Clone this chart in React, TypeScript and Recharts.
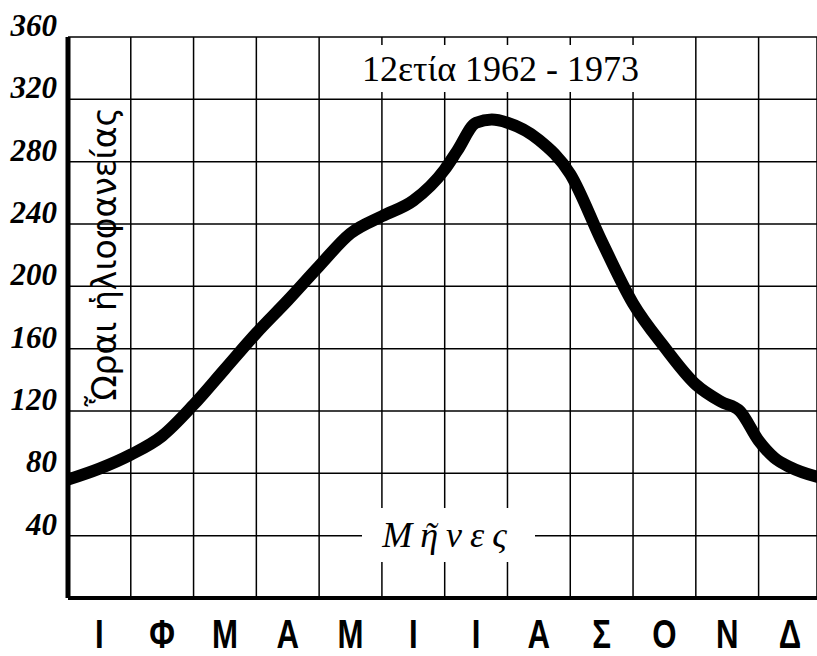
import React from 'react';
import { LineChart, Line, XAxis, YAxis, CartesianGrid } from 'recharts';

// months (Greek initials), placed at the middle of each column
const months = ['Ι', 'Φ', 'Μ', 'Α', 'Μ', 'Ι', 'Ι', 'Α', 'Σ', 'Ο', 'Ν', 'Δ'];
const monthTicks = [0.5, 1.5, 2.5, 3.5, 4.5, 5.5, 6.5, 7.5, 8.5, 9.5, 10.5, 11.5];
const gridTicks = [0, 1, 2, 3, 4, 5, 6, 7, 8, 9, 10, 11, 12];
const yTicks = [40, 80, 120, 160, 200, 240, 280, 320, 360];

// sunshine hours (x in month columns)
const xs = [0, 0.5, 1, 1.5, 2, 2.5, 3, 3.5, 4, 4.5, 5, 5.5, 6, 6.2, 6.5, 6.75, 7, 7.5, 8, 8.5, 9, 9.5, 10, 10.4, 10.7, 11, 11.25, 11.5, 12];
const hours = [76, 83, 92, 104, 124, 147, 170, 191, 213, 234, 245, 255, 275, 287, 305, 307, 305, 294, 272, 229, 189, 161, 137, 126, 120, 101, 90, 84, 77];

const data = xs.map((x, i) => ({ x, h: hours[i] }));

const YTick = (props: any) => {
    const { x, y, payload } = props;
    return (
        <text x={x - 3} y={y - 1} textAnchor="end" fontFamily="Liberation Serif" fontStyle="italic" fontWeight="bold" fontSize={31} fill="#000">
            {payload.value}
        </text>
    );
};

const MonthTick = (props: any) => {
    const { x, y, index } = props;
    return (
        <text transform={`translate(${x},${y + 41}) scale(0.78,1)`} textAnchor="middle" fontFamily="Liberation Sans" fontWeight="bold" fontSize={40} fill="#000">
            {months[index]}
        </text>
    );
};

const NoTick = () => <g />;

const App: React.FC = () => {
    return (
        <div style={{ position: 'absolute', left: 0, top: 0, width: 817, height: 656, background: '#fff' }}>
            <LineChart width={817} height={656} data={data} margin={{ top: 37, right: 0, left: 0, bottom: 0 }}>
                <CartesianGrid stroke="#000" strokeWidth={1.5} />
                <XAxis
                    dataKey="x"
                    type="number"
                    domain={[0, 11.93]}
                    allowDataOverflow
                    ticks={gridTicks}
                    tick={<NoTick />}
                    tickLine={false}
                    height={1}
                    axisLine={{ stroke: '#000', strokeWidth: 4 }}
                />
                <XAxis
                    xAxisId="m"
                    dataKey="x"
                    type="number"
                    domain={[0, 11.93]}
                    allowDataOverflow
                    ticks={monthTicks}
                    tick={<MonthTick />}
                    tickLine={false}
                    axisLine={false}
                    height={57}
                />
                <YAxis
                    type="number"
                    domain={[0, 360]}
                    ticks={yTicks}
                    width={68}
                    tick={<YTick />}
                    tickLine={false}
                    axisLine={{ stroke: '#000', strokeWidth: 5 }}
                />
                <Line
                    dataKey="h"
                    type="monotone"
                    stroke="#000"
                    strokeWidth={12}
                    strokeLinecap="round"
                    dot={false}
                    isAnimationActive={false}
                />
            </LineChart>

            <div style={{ position: 'absolute', left: 335, top: 45, width: 355, height: 47, background: '#fff', display: 'flex', alignItems: 'center', justifyContent: 'center', paddingRight: 24, boxSizing: 'border-box', fontFamily: 'Liberation Serif', fontSize: 36, color: '#000', whiteSpace: 'nowrap' }}>
                12ετία 1962 - 1973
            </div>
            <div style={{ position: 'absolute', left: 362, top: 508, width: 173, height: 54, background: '#fff', display: 'flex', alignItems: 'center', justifyContent: 'center', fontFamily: 'Liberation Serif', fontStyle: 'italic', fontSize: 36, letterSpacing: 8, color: '#000' }}>
                Μῆνες
            </div>
            <div style={{ position: 'absolute', left: -60, top: 237, width: 330, height: 40, lineHeight: '40px', textAlign: 'center', transform: 'rotate(-90deg)', fontFamily: 'DejaVu Sans', fontSize: 33, color: '#000', whiteSpace: 'nowrap' }}>
                Ὧραι ἡλιοφανείας
            </div>
        </div>
    );
};

export default App;
